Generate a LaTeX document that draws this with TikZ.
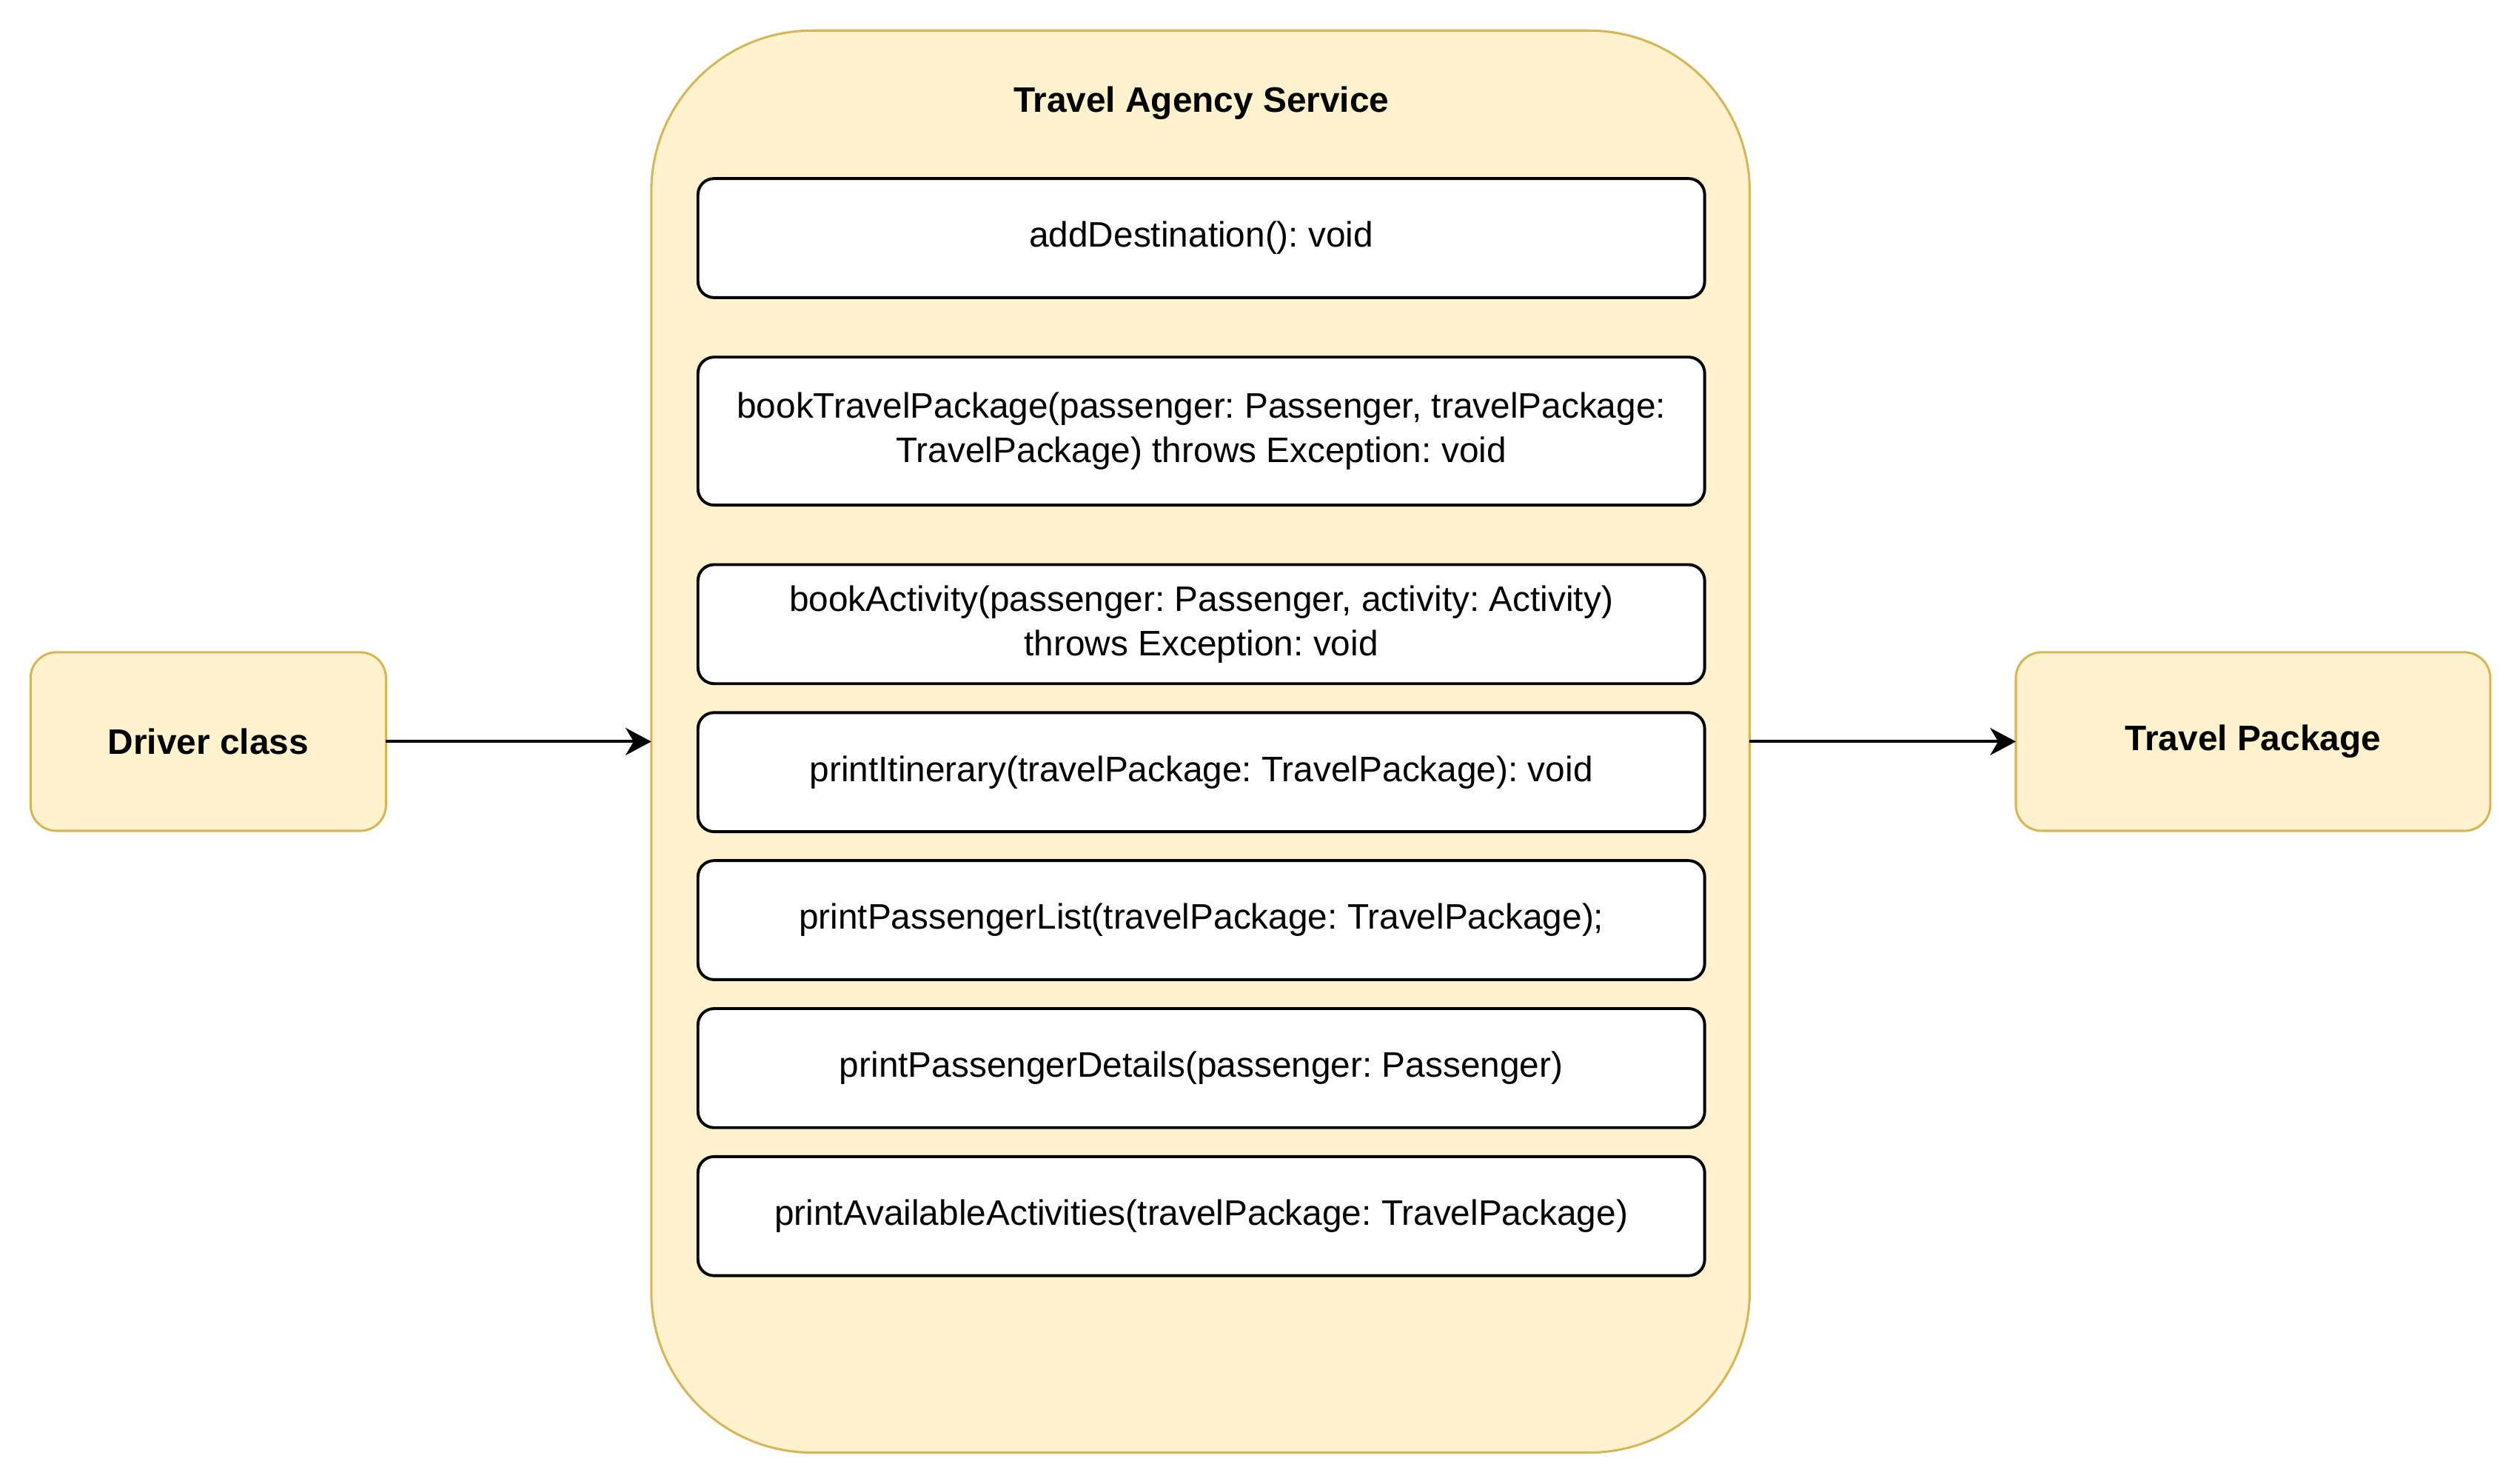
\documentclass[tikz,border=0pt]{standalone}
\usepackage{fontspec}
\setmainfont{Liberation Sans}
\usetikzlibrary{arrows.meta}
\definecolor{yfill}{HTML}{FFF2CC}
\definecolor{ydraw}{HTML}{D6B656}
\frenchspacing
\begin{document}
\begin{tikzpicture}[x=1pt,y=-1pt,
  container/.style={draw=ydraw,fill=yfill,line width=1.4pt,rounded corners=100pt,
    minimum width=683pt,minimum height=884pt,inner sep=0pt,outer sep=0pt},
  sidebox/.style={draw=ydraw,fill=yfill,line width=1.4pt,rounded corners=16pt,
    minimum height=111pt,inner sep=0pt,outer sep=0pt,
    font=\fontsize{22}{27.5}\selectfont\bfseries},
  method/.style={draw=black,fill=white,line width=1.8pt,rounded corners=10pt,
    minimum width=626pt,minimum height=74pt,inner sep=0pt,outer sep=0pt,
    align=center,font=\fontsize{22}{27.5}\selectfont},
  titletext/.style={font=\fontsize{22}{27.5}\selectfont\bfseries,inner sep=0pt},
  arr/.style={line width=1.8pt,-{Stealth[length=16pt,width=17pt,inset=5pt]}}
]
\useasboundingbox (0,0) rectangle (1567,922.5);
\node[container] (svc) at (746.5,461) {};
\node[titletext] (title) at (747,64) {Travel Agency Service};
\node[method] (m1) at (747,148) {addDestination(): void};
\node[method,minimum height=92pt] (m2) at (747,268) {bookTravelPackage(passenger: Passenger, travelPackage:\\TravelPackage) throws Exception: void};
\node[method] (m3) at (747,388) {bookActivity(passenger: Passenger, activity: Activity)\\throws Exception: void};
\node[method] (m4) at (747,480) {printItinerary(travelPackage: TravelPackage): void};
\node[method] (m5) at (747,572) {printPassengerList(travelPackage: TravelPackage);};
\node[method] (m6) at (747,664) {printPassengerDetails(passenger: Passenger)};
\node[method] (m7) at (747,756) {printAvailableActivities(travelPackage: TravelPackage)};
\node[sidebox,minimum width=221pt] (drv) at (129.5,461) {Driver class};
\node[sidebox,minimum width=295pt] (tp) at (1401,461) {Travel Package};
\draw[arr] (drv.east) -- (svc.west);
\draw[arr] (svc.east) -- (tp.west);
\end{tikzpicture}
\end{document}
